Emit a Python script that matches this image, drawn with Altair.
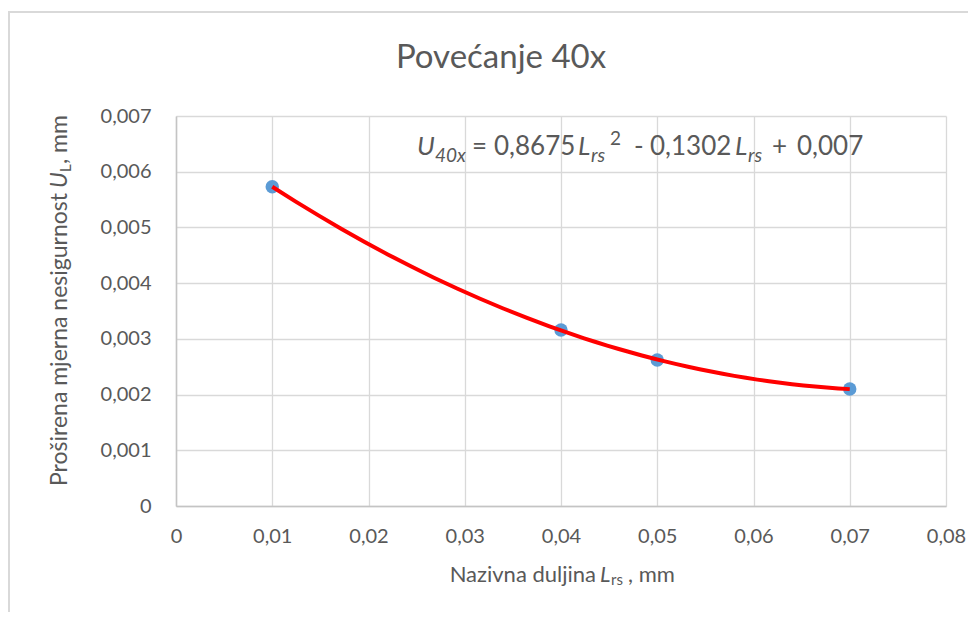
import altair as alt
import pandas as pd

# ---- data ----
L_rs = [0.01, 0.04, 0.05, 0.07]            # Nazivna duljina L_rs, mm
U_L = [0.00573, 0.00316, 0.00262, 0.00210]  # Proširena mjerna nesigurnost U_L, mm
x_ticks = [0, 0.01, 0.02, 0.03, 0.04, 0.05, 0.06, 0.07, 0.08]
y_ticks = [0, 0.001, 0.002, 0.003, 0.004, 0.005, 0.006, 0.007]
title_text = "Povećanje 40x"

df = pd.DataFrame({"L": L_rs, "U": U_L})
one = pd.DataFrame({"k": [0]})

GRAY = "#595959"
FONT = "Lato"

xs = alt.Scale(domain=[0, 0.08], nice=False, zero=False)
ys = alt.Scale(domain=[0, 0.007], nice=False, zero=False)

x_axis = alt.Axis(values=x_ticks, title=None, grid=True, ticks=False,
                  labelExpr="replace(format(datum.value, '.2~f'), '.', ',')",
                  labelFlush=False, labelPadding=20, labelFontSize=20)
y_axis = alt.Axis(values=y_ticks, title=None, grid=True, ticks=False,
                  labelExpr="replace(format(datum.value, '.3~f'), '.', ',')",
                  labelPadding=25, labelFontSize=20)

points = alt.Chart(df).mark_circle(size=180, color="#5B9BD5", opacity=1).encode(
    x=alt.X("L:Q", scale=xs, axis=x_axis),
    y=alt.Y("U:Q", scale=ys, axis=y_axis),
)

trend = alt.Chart(df).transform_regression(
    "L", "U", method="poly", order=2, extent=[0.01, 0.07]
).mark_line(color="#FF0000", strokeWidth=4).encode(
    x=alt.X("L:Q", scale=xs),
    y=alt.Y("U:Q", scale=ys),
)

# outer chart-area frame (left and top edges visible in the reference)
left_border = alt.Chart(one).mark_rule(color="#d9d9d9", strokeWidth=2).encode(
    x=alt.value(-167), y=alt.value(-104), y2=alt.value(500))
top_border = alt.Chart(one).mark_rule(color="#d9d9d9", strokeWidth=2).encode(
    x=alt.value(-168), x2=alt.value(792), y=alt.value(-104))


def txt(t, x, y, size, italic=False, align="left", angle=0):
    kw = dict(text=t, align=align, baseline="alphabetic", font=FONT,
              fontSize=size, color=GRAY,
              fontStyle="italic" if italic else "normal")
    if angle:
        kw["angle"] = angle
    return alt.Chart(one).mark_text(**kw).encode(x=alt.value(x), y=alt.value(y))


title = txt(title_text, 325, -48, 33, align="center")

# trendline equation: U_40x = 0,8675 L_rs^2 - 0,1302 L_rs + 0,007
MAIN, SUB = 26, 19
eq = [
    txt("U", 241, 39, MAIN, True),
    txt("40x", 259, 46, SUB, True),
    txt("=", 296, 39, MAIN),
    txt("0,8675", 318, 39, MAIN),
    txt("L", 402, 39, MAIN, True),
    txt("rs", 415, 46, SUB, True),
    txt("2", 434, 29, SUB),
    txt("-", 458, 39, MAIN),
    txt("0,1302", 474, 39, MAIN),
    txt("L", 559, 39, MAIN, True),
    txt("rs", 572, 46, SUB, True),
    txt("+", 596, 39, MAIN),
    txt("0,007", 621, 39, MAIN),
]

# x-axis title: Nazivna duljina L_rs , mm
xt = [
    txt("Nazivna duljina", 420, 466, 22, align="right"),
    txt("L", 424, 466, 22, True),
    txt("rs", 435, 469, 15),
    txt(", mm", 452, 466, 22),
]

# y-axis title: Proširena mjerna nesigurnost U_L, mm (rotated)
yt = [
    txt("Proširena mjerna nesigurnost", -109, 77, 23, align="right", angle=270),
    txt("U", -109, 72, 23, True, angle=270),
    txt("L", -105, 56, 15, angle=270),
    txt(", mm", -109, 48, 23, angle=270),
]

chart = alt.layer(
    left_border, top_border, points, trend, title, *eq, *xt, *yt
).properties(
    width=770,
    height=390,
    autosize=alt.AutoSizeParams(type="none"),
    padding={"left": 168, "top": 108, "right": 22, "bottom": 106},
).configure_view(stroke=None).configure_axis(
    labelFont=FONT, labelColor=GRAY,
    gridColor="#d9d9d9", gridWidth=1.3,
    domainColor="#c4c4c4", domainWidth=1.5,
)

chart.save("out.html", embed_options={"renderer": "svg", "actions": False})
